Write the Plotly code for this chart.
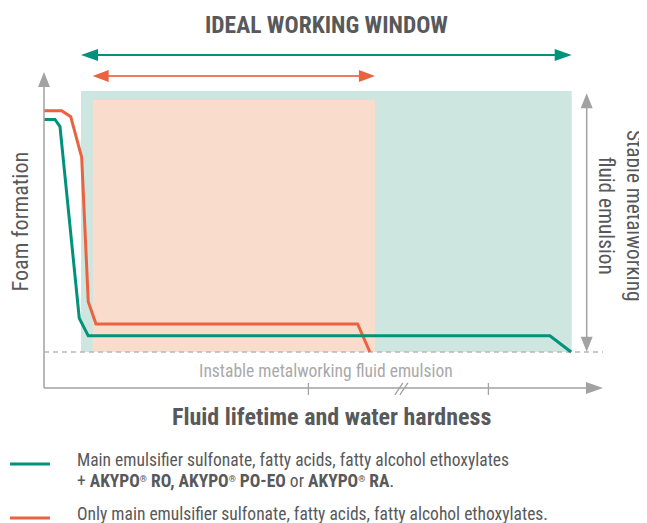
import plotly.graph_objects as go

# ---------------- data ----------------
lifetime_with_akypo = [0, 1.97, 2.86, 6.31, 7.92, 90.5, 94.3]
foam_with_akypo = [96.4, 96.4, 93.4, 14.0, 6.7, 6.7, 0.0]

lifetime_main_only = [0, 3.17, 4.78, 6.74, 7.92, 9.30, 56.1, 58.3]
foam_main_only = [100, 100, 97.5, 80.7, 20.8, 11.6, 11.6, 0.0]

window_with_akypo = [6.62, 94.4]      # ideal working window, x extent
window_main_only = [8.71, 59.2]
window_top_with_akypo = 108.2
window_top_main_only = 104.4

stable_band = [0.1, 107.2]            # "stable emulsion" arrow extent
tick_positions = [47.3, 79.5]
break_position = 64.2

title_text = "IDEAL WORKING WINDOW"
x_title = "Fluid lifetime and water hardness"
y_title = "Foam formation"
right_label = "Stable metalworking<br>fluid emulsion"
bottom_label = "Instable metalworking fluid emulsion"
REG = "<span style='font-size:13px'><sup>®</sup></span>"
legend_with_akypo = [
    "Main emulsifier sulfonate, fatty acids, fatty alcohol ethoxylates",
    f"+ <b>AKYPO{REG} RO, AKYPO{REG} PO-EO</b> or <b>AKYPO{REG} RA</b>.",
]
legend_main_only = "Only main emulsifier sulfonate, fatty acids, fatty alcohol ethoxylates."

# ---------------- styling ----------------
# the page adds an 8px body margin; the figure covers reference pixels 8..647 x 8..523
OFF = 8
W, H = 647 - OFF, 523 - OFF
X_RANGE = [-6.440, 107.871]
Y_RANGE = [-70.86, 142.56]
SX = W / (X_RANGE[1] - X_RANGE[0])
SY = H / (Y_RANGE[1] - Y_RANGE[0])

GREEN = "#00927a"
ORANGE = "#eb6240"
GREEN_BG = "#cde6df"
ORANGE_BG = "#f9dccc"
AXIS = "#a2a2a2"
TEXT = "#58595b"
LIGHT_TEXT = "#a9a9a9"
FONT = "Liberation Sans Narrow, Arial Narrow, Roboto Condensed, DejaVu Sans Condensed, sans-serif"

AXIS_Y = -14.9
AXIS_X_END = 100.0
AXIS_Y_END = 116.0
GREEN_ARROW_Y = 123.1
ORANGE_ARROW_Y = 114.4
STABLE_X = 97.08

fig = go.Figure()

fig.add_trace(go.Scatter(
    x=lifetime_main_only, y=foam_main_only, mode="lines",
    line=dict(color=ORANGE, width=3), name=legend_main_only, showlegend=False,
    hoverinfo="skip"))
fig.add_trace(go.Scatter(
    x=lifetime_with_akypo, y=foam_with_akypo, mode="lines",
    line=dict(color=GREEN, width=3), name=legend_with_akypo[0], showlegend=False,
    hoverinfo="skip"))

shapes = []
# working windows
shapes.append(dict(type="rect", xref="x", yref="y", x0=window_with_akypo[0], x1=window_with_akypo[1],
                   y0=0, y1=window_top_with_akypo, fillcolor=GREEN_BG, line=dict(width=0), layer="below"))
shapes.append(dict(type="rect", xref="x", yref="y", x0=window_main_only[0], x1=window_main_only[1],
                   y0=0, y1=window_top_main_only, fillcolor=ORANGE_BG, line=dict(width=0), layer="below"))
# dashed baseline
shapes.append(dict(type="line", xref="x", yref="y", x0=0, x1=AXIS_X_END, y0=0, y1=0,
                   line=dict(color="#b9b9b9", width=1.3, dash="5px,4px"), layer="below"))


def head(xt, yt, d, color, L=16, hw=6):
    if d == "right":
        b = xt - L / SX
        p = f"M{xt},{yt} L{b},{yt + hw / SY} L{b},{yt - hw / SY} Z"
    elif d == "left":
        b = xt + L / SX
        p = f"M{xt},{yt} L{b},{yt + hw / SY} L{b},{yt - hw / SY} Z"
    elif d == "up":
        b = yt - L / SY
        p = f"M{xt},{yt} L{xt - hw / SX},{b} L{xt + hw / SX},{b} Z"
    else:
        b = yt + L / SY
        p = f"M{xt},{yt} L{xt - hw / SX},{b} L{xt + hw / SX},{b} Z"
    return dict(type="path", xref="x", yref="y", path=p, fillcolor=color, line=dict(width=0), layer="above")


def hline(x0, x1, y, color, w):
    return dict(type="line", xref="x", yref="y", x0=x0, x1=x1, y0=y, y1=y,
                line=dict(color=color, width=w), layer="above")


def vline(x, y0, y1, color, w):
    return dict(type="line", xref="x", yref="y", x0=x, x1=x, y0=y0, y1=y1,
                line=dict(color=color, width=w), layer="above")


# axes
shapes.append(hline(0, AXIS_X_END - 14 / SX, AXIS_Y, AXIS, 1.5))
shapes.append(head(AXIS_X_END, AXIS_Y, "right", AXIS, L=17, hw=6))
shapes.append(vline(0, AXIS_Y, AXIS_Y_END - 13 / SY, AXIS, 1.5))
shapes.append(head(0, AXIS_Y_END, "up", AXIS, L=15, hw=6))
for t in tick_positions:
    shapes.append(vline(t, AXIS_Y + 5 / SY, AXIS_Y - 7 / SY, AXIS, 1.3))
for off in (0, 5):
    shapes.append(dict(type="line", xref="x", yref="y",
                       x0=break_position + (off - 8) / SX, y0=AXIS_Y - 7 / SY,
                       x1=break_position + off / SX, y1=AXIS_Y + 5 / SY,
                       line=dict(color=AXIS, width=1.3), layer="above"))

# stable emulsion arrow
shapes.append(vline(STABLE_X, stable_band[0] + 12 / SY, stable_band[1] - 12 / SY, AXIS, 1.5))
shapes.append(head(STABLE_X, stable_band[1], "up", AXIS, L=15, hw=6))
shapes.append(head(STABLE_X, stable_band[0], "down", AXIS, L=15, hw=6))

# ideal working window arrows
shapes.append(hline(window_with_akypo[0] + 12 / SX, window_with_akypo[1] - 12 / SX, GREEN_ARROW_Y, GREEN, 2))
shapes.append(head(window_with_akypo[0], GREEN_ARROW_Y, "left", GREEN, L=17, hw=6))
shapes.append(head(window_with_akypo[1], GREEN_ARROW_Y, "right", GREEN, L=17, hw=6))
shapes.append(hline(window_main_only[0] + 12 / SX, window_main_only[1] - 12 / SX, ORANGE_ARROW_Y, "#ef7a5c", 2))
shapes.append(head(window_main_only[0], ORANGE_ARROW_Y, "left", ORANGE, L=16, hw=6))
shapes.append(head(window_main_only[1], ORANGE_ARROW_Y, "right", ORANGE, L=16, hw=6))


def px(x):
    return (x - OFF) / W


def py(y):
    return 1 - (y - OFF) / H


# legend lines
shapes.append(dict(type="line", xref="paper", yref="paper", x0=px(10), x1=px(50),
                   y0=py(464), y1=py(464), line=dict(color=GREEN, width=3)))
shapes.append(dict(type="line", xref="paper", yref="paper", x0=px(10), x1=px(50),
                   y0=py(518), y1=py(518), line=dict(color=ORANGE, width=3)))


def ann(text, x, y, size, color=TEXT, angle=0, xanchor="center", bold=False):
    return dict(text=f"<b>{text}</b>" if bold else text, x=px(x), y=py(y),
                xref="paper", yref="paper", showarrow=False, textangle=angle,
                xanchor=xanchor, yanchor="middle", align="center",
                font=dict(size=size, color=color, family=FONT))


annotations = [
    ann(title_text, 326, 25, 23.5, bold=True),
    ann(x_title, 331, 417, 24, bold=True),
    ann(y_title, 19.5, 222, 22.2, angle=-90),
    ann(right_label, 621, 216, 21.3, angle=90),
    ann(bottom_label, 325.5, 371, 17.5, color=LIGHT_TEXT),
    ann(legend_with_akypo[0], 75, 460, 17.5, xanchor="left"),
    ann(legend_with_akypo[1], 75, 481, 17.5, xanchor="left"),
    ann(legend_main_only, 75, 514, 17.5, xanchor="left"),
]

fig.update_layout(
    width=W, height=H,
    margin=dict(l=0, r=0, t=0, b=0),
    paper_bgcolor="white", plot_bgcolor="white",
    xaxis=dict(range=X_RANGE, visible=False, fixedrange=True),
    yaxis=dict(range=Y_RANGE, visible=False, fixedrange=True),
    shapes=shapes, annotations=annotations,
    showlegend=False,
    font=dict(family=FONT, color=TEXT),
)

fig.write_html("out.html")
